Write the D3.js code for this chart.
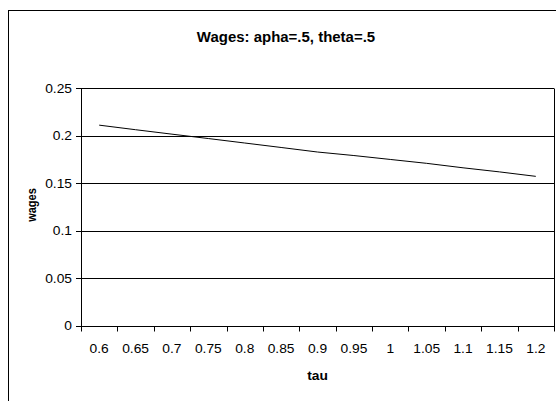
<!DOCTYPE html>
<html>
<head>
<meta charset="utf-8">
<script src="https://cdn.jsdelivr.net/npm/d3@7"></script>
<style>
  html, body { margin: 0; padding: 0; background: #fff; }
  svg { display: block; }
  text { font-family: "Liberation Sans", Arial, sans-serif; fill: #000; }
</style>
</head>
<body>
<svg id="chart" width="556" height="401"></svg>
<script>
const title = "Wages: apha=.5, theta=.5";
const xTitle = "tau";
const yTitle = "wages";
const categories = ["0.6","0.65","0.7","0.75","0.8","0.85","0.9","0.95","1","1.05","1.1","1.15","1.2"];
const wages = [0.2109,0.2061,0.2014,0.1968,0.1921,0.1874,0.1826,0.1789,0.1748,0.1707,0.1660,0.1617,0.1570];
const yTicks = [0, 0.05, 0.1, 0.15, 0.2, 0.25];
const yTickLabels = ["0","0.05","0.1","0.15","0.2","0.25"];

const svg = d3.select("#chart");
const plot = {left: 81, right: 554, top: 88, bottom: 325.5};
const SX = 1.15; // horizontal stretch of text seen in the reference

svg.append("rect")
  .attr("x", 8.5).attr("y", 10.5)
  .attr("width", 556).attr("height", 400)
  .attr("fill", "#fff").attr("stroke", "#000").attr("stroke-width", 1);

const x = d3.scaleBand().domain(categories).range([plot.left, plot.right]).padding(0);
const y = d3.scaleLinear().domain([0, 0.25]).range([plot.bottom, plot.top]);
const py = v => Math.round(y(v)) + 0.5;

// gridlines
svg.append("g")
  .selectAll("line")
  .data(yTicks.filter(d => d > 0))
  .join("line")
  .attr("x1", plot.left).attr("x2", plot.right)
  .attr("y1", d => py(d)).attr("y2", d => py(d))
  .attr("stroke", "#000").attr("stroke-width", 1);

// right border of plot area
svg.append("line")
  .attr("x1", plot.right + 0.5).attr("x2", plot.right + 0.5)
  .attr("y1", py(0.25)).attr("y2", py(0))
  .attr("stroke", "#000");

// y axis line + ticks
const gy = svg.append("g");
gy.append("line")
  .attr("x1", plot.left + 0.5).attr("x2", plot.left + 0.5)
  .attr("y1", py(0.25)).attr("y2", py(0))
  .attr("stroke", "#000");
gy.selectAll("line.tk")
  .data(yTicks)
  .join("line").attr("class", "tk")
  .attr("x1", plot.left - 5).attr("x2", plot.left + 0.5)
  .attr("y1", d => py(d)).attr("y2", d => py(d))
  .attr("stroke", "#000");
gy.selectAll("text")
  .data(yTicks)
  .join("text")
  .attr("transform", d => `translate(${plot.left - 9},${y(d) + 4.5}) scale(${SX},1)`)
  .attr("text-anchor", "end")
  .style("font-size", "12px")
  .text((d, i) => yTickLabels[i]);

// x axis
const gx = svg.append("g")
  .attr("transform", `translate(0,${py(0)})`);
gx.append("line")
  .attr("x1", plot.left).attr("x2", plot.right + 1)
  .attr("stroke", "#000");
const boundaries = categories.map(c => x(c)).concat([x(categories[categories.length - 1]) + x.bandwidth()]);
gx.selectAll("line.tk")
  .data(boundaries)
  .join("line").attr("class", "tk")
  .attr("x1", d => Math.round(d) + 0.5).attr("x2", d => Math.round(d) + 0.5)
  .attr("y1", 0).attr("y2", 5)
  .attr("stroke", "#000");
gx.selectAll("text")
  .data(categories)
  .join("text")
  .attr("transform", d => `translate(${x(d) + x.bandwidth() / 2},26) scale(${SX},1)`)
  .attr("text-anchor", "middle")
  .style("font-size", "12px")
  .text(d => d);

// data line
const line = d3.line()
  .x((d, i) => x(categories[i]) + x.bandwidth() / 2)
  .y(d => y(d));
svg.append("path")
  .datum(wages)
  .attr("d", line)
  .attr("fill", "none")
  .attr("stroke", "#000")
  .attr("stroke-width", 1);

// titles
svg.append("text")
  .attr("transform", `translate(286,42) scale(1.07,1)`)
  .attr("text-anchor", "middle")
  .style("font-size", "14px").style("font-weight", "bold")
  .text(title);

svg.append("text")
  .attr("transform", `translate(${(plot.left + plot.right) / 2},380) scale(${SX},1)`)
  .attr("text-anchor", "middle")
  .style("font-size", "12px").style("font-weight", "bold")
  .text(xTitle);

svg.append("text")
  .attr("transform", `translate(36,205) rotate(-90) scale(1,${SX})`)
  .attr("text-anchor", "middle")
  .style("font-size", "11px").style("font-weight", "bold")
  .text(yTitle);
</script>
</body>
</html>
